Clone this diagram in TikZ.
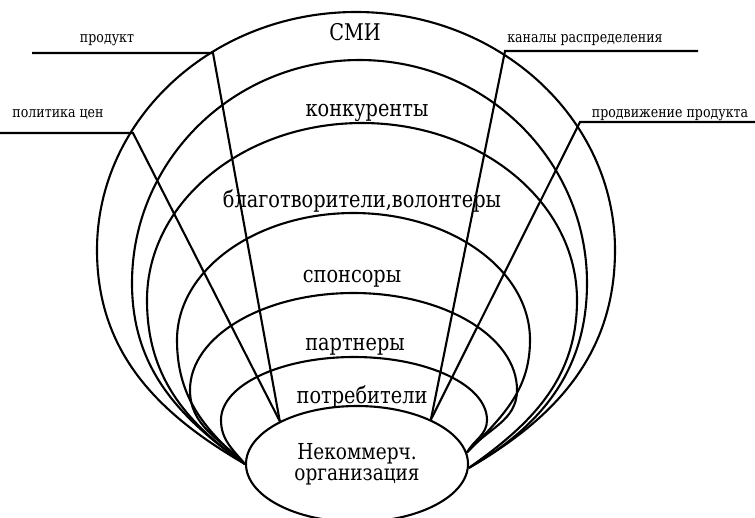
\documentclass[tikz,border=0pt]{standalone}
\usepackage{fontspec}
\setmainfont{DejaVu Serif}[FakeStretch=0.84]
\usetikzlibrary{shapes.geometric}

\begin{document}
\begin{tikzpicture}[x=1pt,y=1pt]
        %%init
        \tikzset{ring/.style = {line width=2.1pt}}
        \tikzset{spoke/.style = {line width=2.1pt}}
        \tikzset{bigtext/.style = {font=\fontsize{23}{25}\selectfont, inner sep=0pt}}
        \tikzset{smalltext/.style = {font=\fontsize{15}{17}\selectfont, inner sep=0pt}}
        \useasboundingbox (0,0) rectangle (755,-517);

        %%ядро: некоммерческая организация
        \node[draw, ellipse, ring, minimum width=222pt, minimum height=116pt, inner sep=0pt,
              align=center, font=\fontsize{22}{21}\selectfont] (org) at (357,-464)
              {Некоммерч.\\организация};
        %точки схода колец
        \coordinate (L) at (org.west);
        \coordinate (R1) at (org.6);  %внутренние кольца
        \coordinate (R2) at (org.-2); %внешние кольца

        %%кольца
        %xl/xr - крайние точки, ye - их высота, yt - верх, a - угол у L, b - угол у R
        \foreach \xl/\xr/\ye/\yt/\a/\b/\rr in {97/615/250/12/150/30/R2, 132/587/283/60/145/30/R2,
                147/577/300/123/145/35/R2, 177/530/340/213/140/45/R1,
                190/517/390/293/135/50/R1, 221/487/420/357/130/60/R1}
            \draw[ring] (L) to[out=\a,in=-90] (\xl,-\ye)
                arc[start angle=180, end angle=0, x radius={(\xr-\xl)/2}, y radius={\ye-\yt}]
                to[out=-90,in=\b] (\rr);

        %%подписи колец
        \node[bigtext, anchor=base] (smi) at (355,-40) {СМИ};
        \node[bigtext, anchor=base] (konk) at (367,-116) {конкуренты};
        \node[bigtext, anchor=base] (blag) at (362,-207) {благотворители,волонтеры};
        \node[bigtext, anchor=base] (spon) at (352,-282) {спонсоры};
        \node[bigtext, anchor=base] (part) at (355,-350) {партнеры};
        \node[bigtext, anchor=base] (potr) at (362,-403) {потребители};

        %%инструменты
        \node[smalltext, anchor=base] (prod) at (107,-42) {продукт};
        \node[smalltext, anchor=base] (polit) at (58,-117) {политика цен};
        \node[smalltext, anchor=base] (kanal) at (585,-42) {каналы распределения};
        \node[smalltext, anchor=base] (prodv) at (670,-117) {продвижение продукта};
        \coordinate (prodA) at (32,-53);   \coordinate (prodB) at (213,-53);
        \coordinate (politA) at (0,-133);  \coordinate (politB) at (133,-133);
        \coordinate (kanalA) at (698,-51); \coordinate (kanalB) at (505,-51);
        \coordinate (prodvA) at (755,-122); \coordinate (prodvB) at (580,-122);
        \draw[spoke] (prodA)--(prodB)--(org.151);
        \draw[spoke] (politA)--(politB)--(org.151);
        \draw[spoke] (kanalA)--(kanalB)--(org.31);
        \draw[spoke] (prodvA)--(prodvB)--(org.31);

\end{tikzpicture}
\end{document}
